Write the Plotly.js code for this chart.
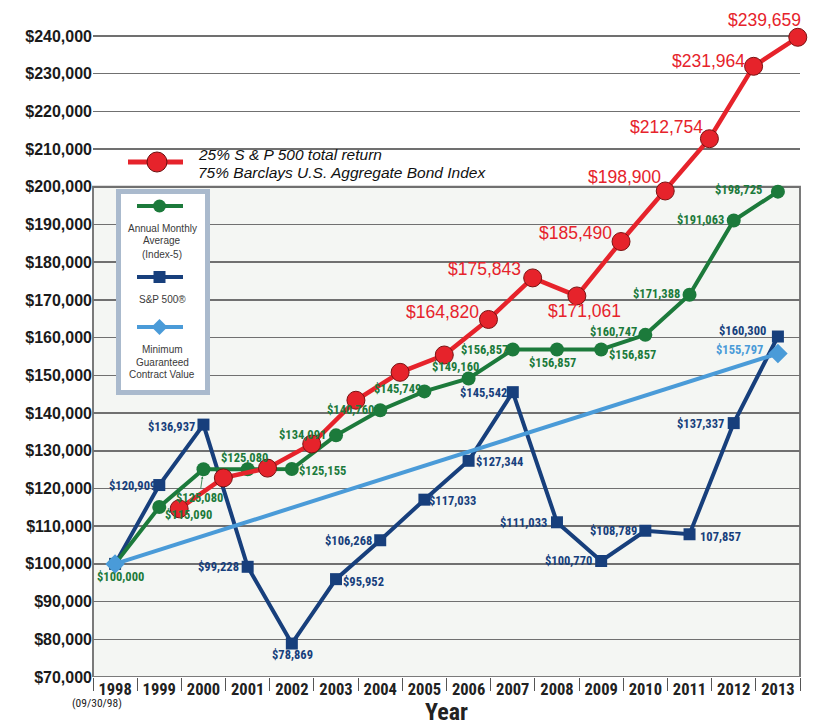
<!DOCTYPE html>
<html>
<head>
<meta charset="utf-8">
<script src="https://cdn.plot.ly/plotly-3.0.1.min.js"></script>
<style>
html,body{margin:0;padding:0;background:#ffffff;}
#chart{width:821px;height:727px;}
</style>
</head>
<body>
<div id="chart"></div>
<script>
// ---------------- DATA ----------------
const years = [1998, 1999, 2000, 2001, 2002, 2003, 2004, 2005, 2006, 2007, 2008, 2009, 2010, 2011, 2012, 2013];
const yearLabels = ['1998', '1999', '2000', '2001', '2002', '2003', '2004', '2005', '2006', '2007', '2008', '2009', '2010', '2011', '2012', '2013'];

// Annual Monthly Average (Index-5)
const indexValues = [100000, 115090, 125080, 125080, 125155, 134091, 140760, 145749, 149160, 156857, 156857, 156857, 160747, 171388, 191063, 198725];
// S&P 500
const sp500Values = [100000, 120909, 136937, 99228, 78869, 95952, 106268, 117033, 127344, 145542, 111033, 100770, 108789, 107857, 137337, 160300];
const sp500NoDollarYears = [2011];
// Minimum Guaranteed Contract Value
const guaranteeYears = [1998, 2013];
const guaranteeValues = [100000, 155797];
const guaranteeLabelYears = [2013];
// 25% S&P 500 total return / 75% Barclays U.S. Aggregate Bond Index
const blendYears = [1999, 2000, 2001, 2002, 2003, 2004, 2005, 2006, 2007, 2008, 2009, 2010, 2011, 2012, 2013];
const blendValues = [114600, 122800, 125400, 131800, 143400, 150800, 155400, 164820, 175843, 171061, 185490, 198900, 212754, 231964, 239659];
const blendLabelYears = [2006, 2007, 2008, 2009, 2010, 2011, 2012, 2013];

const yTicks = [70000, 80000, 90000, 100000, 110000, 120000, 130000, 140000, 150000, 160000, 170000, 180000, 190000, 200000, 210000, 220000, 230000, 240000];

// ---------------- LABEL PLACEMENT (pixel offsets of label centre from point) ----------------
const indexLabelOffsets = [[5,13],[29,8],[-4,28],[-3,-12],[31,1],[-34,-1],[-30,-1],[-27,-3],[-13,-12],[-28,0],[-4,13],[31,5],[-32,-3],[-33,-1],[-33,-1],[-39,-2]];
const indexArrowYears = [2000];
const sp500LabelOffsets = [null,[-27,0],[-32,2],[-29,0],[1,11],[27,2],[-32,0],[28,1],[31,1],[-29,0],[-33,0],[-33,0],[-32,0],[31,2],[-33,0],[-35,-6]];
const guaranteeLabelOffsets = [[-38,-4]];
const blendLabelOffsets = [[-46,-7],[-48,-9],[8,15],[-46,-9],[-41,-14],[-43,-12],[-45,-5],[-33,-17]];

// ---------------- STYLE ----------------
const W = 821, H = 727, L = 93, R = 21, T = 21, B = 50;
const PW = W - L - R, PH = H - T - B;
const px = p => (p - L) / PW;
const py = p => (H - B - p) / PH;

const GREEN = '#1c7a3b', NAVY = '#173f7c', LBLUE = '#4a9bd8', RED = '#e6232b';
const COND = "'Liberation Sans Narrow', 'Arial Narrow', 'Roboto Condensed', 'Liberation Sans', Arial, sans-serif";
const SANS = "'Liberation Sans', Arial, sans-serif";

const fmt = v => v.toLocaleString('en-US');

// ---------------- TRACES ----------------
const traces = [
  {
    x: years, y: sp500Values, type: 'scatter', mode: 'lines+markers', name: 'S&P 500®',
    line: {color: NAVY, width: 4}, marker: {symbol: 'square', size: 12, color: NAVY},
    cliponaxis: false, hoverinfo: 'skip'
  },
  {
    x: years, y: indexValues, type: 'scatter', mode: 'lines+markers', name: 'Annual Monthly Average (Index-5)',
    line: {color: GREEN, width: 4}, marker: {symbol: 'circle', size: 14, color: GREEN},
    cliponaxis: false, hoverinfo: 'skip'
  },
  {
    x: guaranteeYears, y: guaranteeValues, type: 'scatter', mode: 'lines+markers', name: 'Minimum Guaranteed Contract Value',
    line: {color: LBLUE, width: 4}, marker: {symbol: 'diamond', size: 15, color: LBLUE},
    cliponaxis: false, hoverinfo: 'skip'
  },
  {
    x: blendYears, y: blendValues, xaxis: 'x2', type: 'scatter', mode: 'lines+markers',
    name: '25% S & P 500 total return / 75% Barclays U.S. Aggregate Bond Index',
    line: {color: RED, width: 4.5}, marker: {symbol: 'circle', size: 18, color: RED, line: {color: '#7a1212', width: 1}},
    cliponaxis: false, hoverinfo: 'skip'
  }
];

// ---------------- ANNOTATIONS ----------------
const ann = [];
function addLabel(xref, x, y, text, off, color, font, arrow) {
  const a = {
    xref: xref, yref: 'y', x: x, y: y, text: text,
    xanchor: 'center', yanchor: 'middle',
    font: Object.assign({color: color}, font)
  };
  if (arrow) {
    Object.assign(a, {showarrow: true, ax: off[0], ay: off[1], axref: 'pixel', ayref: 'pixel',
      arrowhead: 2, arrowsize: 0.6, arrowwidth: 0.8, arrowcolor: color, standoff: 7, startstandoff: 0});
  } else {
    Object.assign(a, {showarrow: false, xshift: off[0], yshift: -off[1]});
  }
  ann.push(a);
}
const smallFont = {family: COND, size: 12.5, weight: 'bold'};
years.forEach((yr, i) => {
  addLabel('x', yr, indexValues[i], '$' + fmt(indexValues[i]), indexLabelOffsets[i], GREEN, smallFont, indexArrowYears.includes(yr));
});
years.forEach((yr, i) => {
  if (!sp500LabelOffsets[i]) return;
  const t = (sp500NoDollarYears.includes(yr) ? '' : '$') + fmt(sp500Values[i]);
  addLabel('x', yr, sp500Values[i], t, sp500LabelOffsets[i], NAVY, smallFont, false);
});
guaranteeLabelYears.forEach((yr, k) => {
  const i = guaranteeYears.indexOf(yr);
  addLabel('x', yr, guaranteeValues[i], '$' + fmt(guaranteeValues[i]), guaranteeLabelOffsets[k], LBLUE, smallFont, false);
});
blendLabelYears.forEach((yr, k) => {
  const i = blendYears.indexOf(yr);
  addLabel('x2', yr, blendValues[i], '$' + fmt(blendValues[i]), blendLabelOffsets[k], RED, {family: SANS, size: 17.5}, false);
});

// axis texts
ann.push({xref: 'paper', yref: 'paper', x: px(446), y: py(712), text: 'Year', showarrow: false,
  xanchor: 'center', yanchor: 'middle', font: {family: COND, size: 24, weight: 'bold', color: '#222'}});
ann.push({xref: 'paper', yref: 'paper', x: px(97), y: py(703), text: '(09/30/98)', showarrow: false,
  xanchor: 'center', yanchor: 'middle', font: {family: COND, size: 11.5, color: '#222'}});

// red legend text
ann.push({xref: 'paper', yref: 'paper', x: px(196), y: py(155), text: '<i>25% S & P 500 total return</i>', showarrow: false,
  xanchor: 'left', yanchor: 'middle', font: {family: SANS, size: 15.5, color: '#111'}});
ann.push({xref: 'paper', yref: 'paper', x: px(196), y: py(172), text: '<i>75% Barclays U.S. Aggregate Bond Index</i>', showarrow: false,
  xanchor: 'left', yanchor: 'middle', font: {family: SANS, size: 15.5, color: '#111'}});

// legend box texts
const legFont = {family: SANS, size: 10, color: '#3a3a3a'};
[['Annual Monthly', 228], ['Average', 241], ['(Index-5)', 254], ['S&P 500®', 299],
 ['Minimum', 350], ['Guaranteed', 362], ['Contract Value', 375]].forEach(([t, yy]) => {
  ann.push({xref: 'paper', yref: 'paper', x: px(162), y: py(yy), text: t, showarrow: false,
    xanchor: 'center', yanchor: 'middle', font: legFont});
});

// ---------------- SHAPES ----------------
const shapes = [];
// framed chart body
shapes.push({type: 'rect', xref: 'paper', yref: 'y', x0: 0, x1: 1, y0: 70000, y1: 200000,
  fillcolor: '#f4f6f3', line: {color: '#7a7a7a', width: 2}, layer: 'below'});
// legend box
shapes.push({type: 'rect', xref: 'paper', yref: 'paper', x0: px(118.5), x1: px(207.5), y0: py(392.5), y1: py(191.5),
  fillcolor: '#ffffff', line: {color: '#aabacd', width: 5}, layer: 'above'});
function sampleLine(yy, color) {
  shapes.push({type: 'line', xref: 'paper', yref: 'paper', x0: px(137), x1: px(183), y0: py(yy), y1: py(yy),
    line: {color: color, width: 4}, layer: 'above'});
}
sampleLine(206, GREEN);
shapes.push({type: 'circle', xref: 'paper', yref: 'paper', x0: px(153), x1: px(166), y0: py(212.5), y1: py(199.5),
  fillcolor: GREEN, line: {width: 0}, layer: 'above'});
sampleLine(277, NAVY);
shapes.push({type: 'rect', xref: 'paper', yref: 'paper', x0: px(153.5), x1: px(165.5), y0: py(283), y1: py(271),
  fillcolor: NAVY, line: {width: 0}, layer: 'above'});
sampleLine(327, LBLUE);
{
  const cx = 159.5, cy = 327, r = 8;
  shapes.push({type: 'path', xref: 'paper', yref: 'paper',
    path: `M ${px(cx - r)} ${py(cy)} L ${px(cx)} ${py(cy - r)} L ${px(cx + r)} ${py(cy)} L ${px(cx)} ${py(cy + r)} Z`,
    fillcolor: LBLUE, line: {width: 0}, layer: 'above'});
}
// red legend sample
shapes.push({type: 'line', xref: 'paper', yref: 'paper', x0: px(128), x1: px(183), y0: py(162), y1: py(162),
  line: {color: RED, width: 5}, layer: 'above'});
shapes.push({type: 'circle', xref: 'paper', yref: 'paper', x0: px(147), x1: px(167), y0: py(172), y1: py(152),
  fillcolor: RED, line: {color: '#6a1010', width: 1}, layer: 'above'});

// ---------------- LAYOUT ----------------
const layout = {
  width: W, height: H,
  margin: {l: L, r: R, t: T, b: B, pad: 0},
  paper_bgcolor: '#ffffff', plot_bgcolor: 'rgba(0,0,0,0)',
  showlegend: false,
  xaxis: {
    type: 'linear', range: [1997.5, 2013.5], fixedrange: true,
    tickmode: 'array', tickvals: years, ticktext: yearLabels,
    ticks: '', showgrid: false, zeroline: false, showline: false,
    tickfont: {family: COND, size: 16.5, weight: 'bold', color: '#222'},
    minor: {tickmode: 'linear', tick0: 1997.5, dtick: 1, ticks: 'outside', ticklen: 13, tickwidth: 1, tickcolor: '#555', showgrid: false}
  },
  xaxis2: {
    type: 'linear', overlaying: 'x', anchor: 'y', range: [1997.05, 2013.05], visible: false, fixedrange: true
  },
  yaxis: {
    range: [70000, 243978], fixedrange: true,
    tickmode: 'array', tickvals: yTicks, ticktext: yTicks.map(v => '$' + fmt(v)),
    ticks: '', showgrid: true, gridcolor: '#707070', gridwidth: 1.5, zeroline: false, showline: false,
    tickfont: {family: SANS, size: 16, weight: 'bold', color: '#1a1a1a'}
  },
  annotations: ann,
  shapes: shapes
};

Plotly.newPlot('chart', traces, layout, {staticPlot: true, displayModeBar: false});
</script>
</body>
</html>
